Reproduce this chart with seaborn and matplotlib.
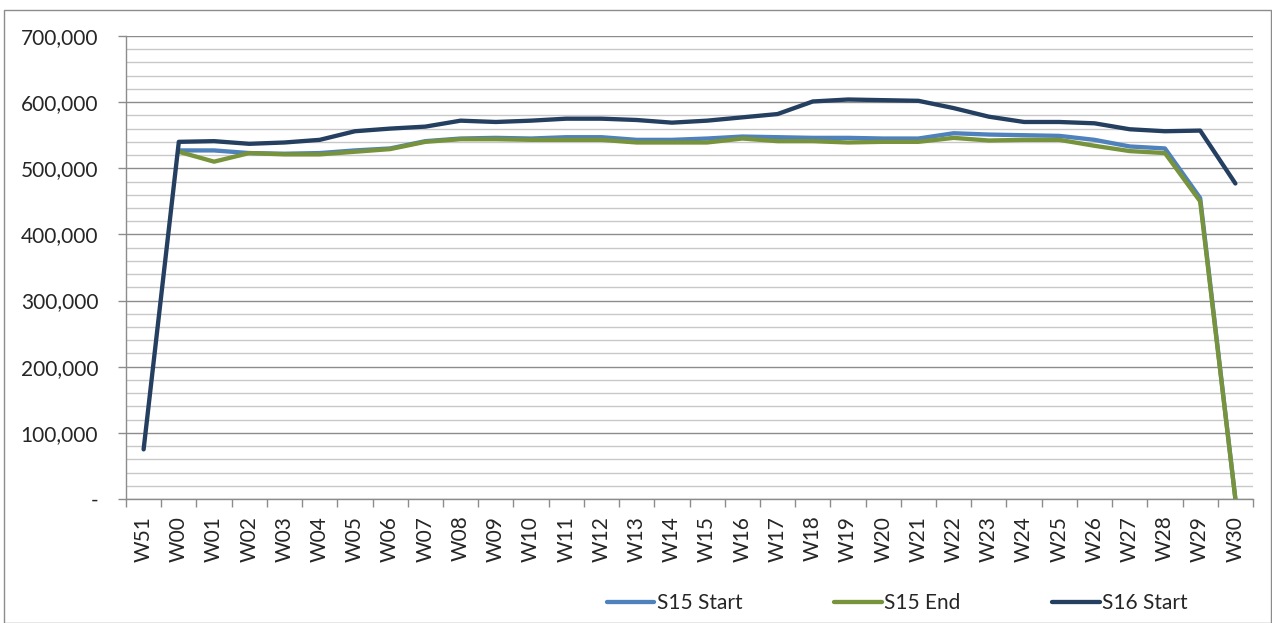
import numpy as np
import pandas as pd
import matplotlib
matplotlib.use("Agg")
import matplotlib.pyplot as plt
import seaborn as sns
from matplotlib.ticker import FuncFormatter, MultipleLocator, FixedLocator
from matplotlib.patches import Rectangle

# week labels on the x axis
weeks = ["W51"] + ["W%02d" % i for i in range(31)]

# series values
s15_start = [np.nan, 527000, 527000, 523000, 522000, 523000, 527000, 530000, 541000, 545000,
             546000, 545000, 547000, 547000, 543000, 543000, 545000, 548000, 547000, 546000,
             546000, 545000, 545000, 553000, 551000, 550000, 549000, 543000, 533000, 530000,
             455000, 0]
s15_end = [np.nan, 525000, 510000, 523000, 521000, 521000, 525000, 529000, 540000, 544000,
           544000, 543000, 543000, 543000, 539000, 539000, 539000, 545000, 541000, 541000,
           539000, 540000, 540000, 546000, 542000, 543000, 543000, 534000, 526000, 523000,
           450000, 0]
s16_start = [75000, 540000, 541000, 537000, 539000, 543000, 556000, 560000, 563000, 572000,
             570000, 572000, 575000, 575000, 573000, 569000, 572000, 577000, 582000, 601000,
             604000, 603000, 602000, 591000, 578000, 570000, 570000, 568000, 559000, 556000,
             557000, 477000]

series_names = ["S15 Start", "S15 End", "S16 Start"]
colors = ["#4F81BD", "#77933C", "#243F60"]

df = pd.DataFrame({"pos": np.arange(len(weeks)), "week": weeks,
                   "S15 Start": s15_start, "S15 End": s15_end, "S16 Start": s16_start})
long_df = df.melt(id_vars=["pos", "week"], value_vars=series_names,
                  var_name="series", value_name="value").dropna()

sns.set_style("white")
plt.rcParams["font.family"] = ["Lato", "DejaVu Sans"]

fig = plt.figure(figsize=(12.72, 6.23), dpi=100)
ax = fig.add_axes([126 / 1272, (623 - 499) / 623, (1253 - 126) / 1272, (499 - 36) / 623])

sns.lineplot(data=long_df, x="pos", y="value", hue="series", hue_order=series_names,
             palette=colors, linewidth=3.1, sort=False, estimator=None, ax=ax, legend=False)
for line in ax.get_lines():
    line.set_solid_joinstyle("round")
    line.set_solid_capstyle("round")

ax.set_xlim(-0.5, len(weeks) - 0.5)
ax.set_ylim(0, 700000)

# y axis: major every 100k, light minor grid every 20k
ax.yaxis.set_major_locator(MultipleLocator(100000))
ax.yaxis.set_minor_locator(MultipleLocator(20000))
ax.yaxis.set_major_formatter(FuncFormatter(lambda v, p: "-" if v == 0 else f"{v:,.0f}"))
ax.grid(axis="y", which="major", color="#8c8c8c", linewidth=1.0)
ax.grid(axis="y", which="minor", color="#c8c8c8", linewidth=1.0)
ax.set_axisbelow(True)
ax.tick_params(axis="y", which="major", length=6, width=1, color="#8c8c8c",
               pad=14, labelsize=15, direction="out", left=True)
ax.tick_params(axis="y", which="minor", length=0)

# x axis: labels at category centres, tick marks between categories
ax.xaxis.set_major_locator(FixedLocator(np.arange(len(weeks))))
ax.set_xticklabels(weeks, rotation=90)
ax.xaxis.set_minor_locator(FixedLocator(np.arange(len(weeks) + 1) - 0.5))
ax.tick_params(axis="x", which="major", length=0, pad=12, labelsize=15)
ax.tick_params(axis="x", which="minor", length=6, width=1, color="#8c8c8c",
               direction="out", bottom=True)

ax.set_xlabel("")
ax.set_ylabel("")
for side in ["top", "right"]:
    ax.spines[side].set_visible(False)
for side in ["left", "bottom"]:
    ax.spines[side].set_color("#8c8c8c")
    ax.spines[side].set_linewidth(1)

# legend at the bottom
handles = [plt.Line2D([], [], color=c, linewidth=3.1) for c in colors]
fig.legend(handles, series_names, loc="center", bbox_to_anchor=(897 / 1272, (623 - 603) / 623),
           ncol=3, frameon=False, fontsize=15, handlelength=2.3, handletextpad=0.1,
           columnspacing=4.4)

# outer chart border
fig.patches.append(Rectangle((4 / 1272, 0), 1 - 4 / 1272 - 0.0005, 1 - 10 / 623,
                             transform=fig.transFigure, fill=False,
                             edgecolor="#8c8c8c", linewidth=1))

fig.savefig("out.png", dpi=100)
